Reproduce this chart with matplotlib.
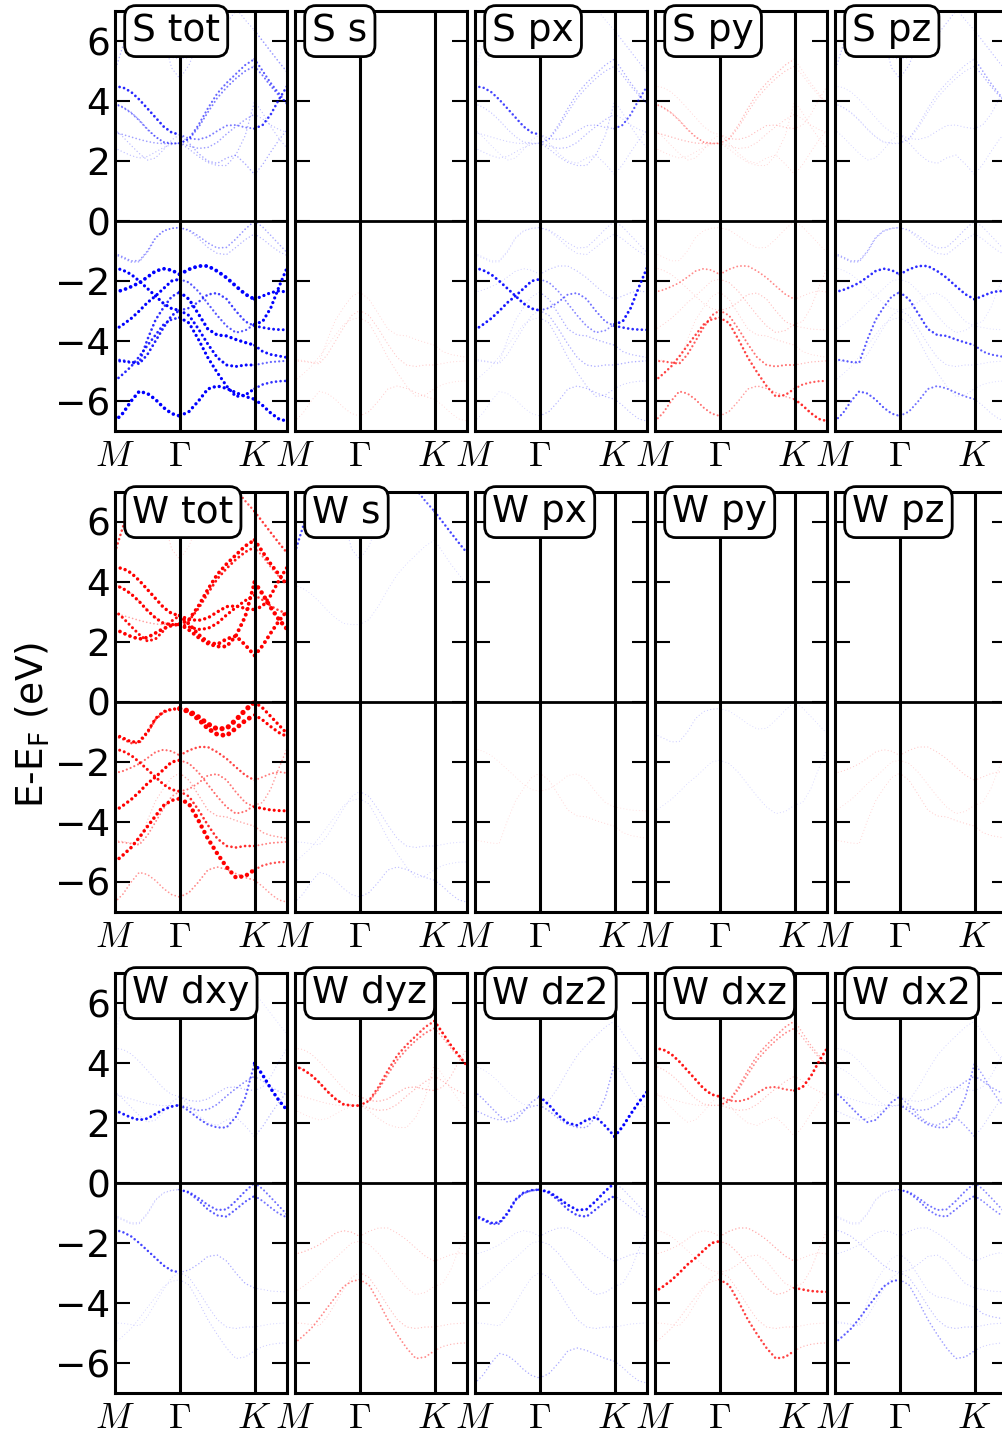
import matplotlib
matplotlib.use('Agg')
import matplotlib.pyplot as plt

plt.rcParams['lines.scale_dashes'] = False
plt.rcParams['font.family'] = ['DejaVu Sans']

# k-path M -> Gamma -> K -> M (nodes)
kpath = [0.000, 0.072, 0.144, 0.216, 0.289, 0.361, 0.433, 0.505, 0.577,
         0.660, 0.744, 0.827, 0.911, 0.994, 1.077, 1.161, 1.244,
         1.316, 1.388, 1.461, 1.533]
k_G = 0.577
k_K = 1.244
klabels = [r'$M$', r'$\Gamma$', r'$K$']

# band energies (eV, E-EF) at the k nodes
v1  = [-1.08, -1.20, -1.33, -1.32, -1.00, -0.55, -0.32, -0.24, -0.22,
       -0.30, -0.50, -0.73, -0.90, -0.88, -0.60, -0.27, 0.00,
       -0.20, -0.48, -0.77, -1.05]
v1b = [-1.12, -1.24, -1.37, -1.36, -1.04, -0.58, -0.34, -0.25, -0.22,
       -0.33, -0.58, -0.88, -1.08, -1.12, -0.88, -0.62, -0.43,
       -0.60, -0.82, -1.02, -1.15]
vP1 = [-2.37, -2.30, -2.19, -2.06, -1.87, -1.67, -1.59, -1.64, -1.78,
       -1.61, -1.50, -1.50, -1.67, -1.89, -2.17, -2.44, -2.61,
       -2.50, -2.39, -2.33, -2.37]
vX1 = [-1.56, -1.64, -1.78, -2.00, -2.25, -2.50, -2.75, -2.92, -2.98,
       -2.90, -2.70, -2.45, -2.40, -2.60, -3.00, -3.35, -3.50,
       -3.55, -3.60, -3.62, -3.63]
vX2 = [-3.63, -3.45, -3.25, -3.00, -2.72, -2.50, -2.25, -2.00, -1.94,
       -2.05, -2.35, -2.75, -3.15, -3.50, -3.72, -3.65, -3.44,
       -3.35, -2.90, -2.20, -1.56]
v5a = [-4.61, -4.65, -4.70, -4.72, -3.95, -3.30, -2.88, -2.52, -2.37,
       -2.61, -3.10, -3.60, -3.80, -3.83, -3.95, -4.05, -4.14,
       -4.35, -4.45, -4.50, -4.55]
v5b = [-4.66, -4.68, -4.72, -4.76, -4.45, -4.00, -3.55, -3.15, -2.98,
       -3.15, -3.60, -4.10, -4.55, -4.80, -4.85, -4.80, -4.80,
       -4.75, -4.70, -4.68, -4.66]
v6  = [-5.33, -5.10, -4.85, -4.52, -4.15, -3.80, -3.45, -3.28, -3.22,
       -3.40, -3.95, -4.55, -5.05, -5.50, -5.85, -5.80, -5.59,
       -5.45, -5.38, -5.34, -5.33]
v7  = [-6.67, -6.40, -6.00, -5.68, -5.75, -5.95, -6.22, -6.42, -6.50,
       -6.35, -6.00, -5.60, -5.50, -5.58, -5.72, -5.85, -5.94,
       -6.15, -6.40, -6.60, -6.67]
c1  = [3.04, 2.80, 2.52, 2.25, 2.03, 2.10, 2.38, 2.70, 2.88,
       2.60, 2.25, 2.00, 1.92, 2.10, 2.20, 1.90, 1.55,
       1.88, 2.30, 2.70, 3.04]
c2  = [2.43, 2.30, 2.18, 2.10, 2.15, 2.30, 2.45, 2.55, 2.60,
       2.40, 2.15, 1.95, 1.85, 1.85, 2.20, 2.85, 3.99,
       3.60, 3.15, 2.75, 2.43]
c3  = [4.49, 4.45, 4.30, 4.05, 3.75, 3.45, 3.15, 2.95, 2.88,
       2.75, 2.72, 2.80, 3.00, 3.18, 3.20, 3.12, 3.08,
       3.20, 3.55, 4.05, 4.49]
c4  = [3.90, 3.78, 3.60, 3.35, 3.05, 2.80, 2.62, 2.58, 2.58,
       2.75, 3.20, 3.75, 4.25, 4.60, 4.90, 5.20, 5.40,
       5.00, 4.60, 4.25, 3.90]
c4b = [3.92, 3.80, 3.62, 3.37, 3.07, 2.82, 2.64, 2.60, 2.60,
       2.72, 3.12, 3.62, 4.10, 4.45, 4.75, 5.00, 5.16,
       4.85, 4.50, 4.18, 3.92]
c5  = [2.95, 2.88, 2.80, 2.72, 2.65, 2.60, 2.58, 2.58, 2.60,
       2.50, 2.42, 2.45, 2.62, 2.90, 3.15, 3.38, 3.56,
       3.40, 3.20, 3.05, 2.95]
# high bands: one around M / K, one dipping at Gamma
c6  = [5.00, 5.85, 6.70, 7.50, 8.00, 8.00, 8.00, 8.00, 8.00,
       8.00, 8.00, 8.00, 8.00, 7.60, 7.10, 6.70, 6.35,
       6.00, 5.65, 5.30, 4.97]
c8  = [8.00, 8.00, 8.00, 8.00, 8.00, 7.60, 6.10, 5.10, 4.75,
       5.20, 6.00, 6.90, 7.60, 8.00, 8.00, 8.00, 8.00,
       8.00, 8.00, 8.00, 8.00]
c7  = [7.60, 7.40, 7.10, 6.60, 6.10, 5.75, 5.55, 5.45, 5.40,
       5.45, 5.55, 5.80, 6.20, 6.60, 7.00, 7.40, 7.80,
       7.60, 7.40, 7.30, 7.60]

bands = {'v1': v1, 'v1b': v1b, 'vP1': vP1, 'vX1': vX1, 'vX2': vX2,
         'v5a': v5a, 'v5b': v5b, 'v6': v6, 'v7': v7,
         'c1': c1, 'c2': c2, 'c3': c3, 'c4': c4, 'c4b': c4b,
         'c5': c5, 'c6': c6, 'c7': c7, 'c8': c8}

# orbital weights per band on (M-G, G-K, K-M)
S_s = {'v5a': (0.03, 0.03, 0.03), 'v5b': (0.06, 0.06, 0.03),
       'v7': (0.03, 0.05, 0.02), 'v6': (0.02, 0.04, 0.02)}
S_px = {'v1': (0.03, 0.06, 0.06), 'v1b': (0.03, 0.05, 0.05),
        'vP1': (0.04, 0.08, 0.08), 'vX1': (0.45, 0.25, 0.4),
        'vX2': (0.45, 0.2, 0.45), 'v5a': (0.04, 0.12, 0.1),
        'v5b': (0.04, 0.12, 0.12), 'v6': (0.02, 0.08, 0.05),
        'v7': (0.02, 0.1, 0.08), 'c1': (0.03, 0.05, 0.05),
        'c2': (0.05, 0.08, 0.05), 'c3': (0.35, 0.1, 0.3),
        'c4': (0.03, 0.12, 0.12), 'c4b': (0.03, 0.1, 0.1),
        'c5': (0.05, 0.1, 0.05), 'c6': (0.02, 0.03, 0.08)}
S_py = {'v1': (0.02, 0.03, 0.02), 'vP1': (0.2, 0.2, 0.04),
        'vX1': (0.04, 0.08, 0.04), 'vX2': (0.04, 0.08, 0.04),
        'v5a': (0.03, 0.05, 0.03), 'v5b': (0.3, 0.25, 0.1),
        'v6': (0.35, 0.35, 0.3), 'v7': (0.25, 0.15, 0.4),
        'c1': (0.03, 0.03, 0.03), 'c2': (0.03, 0.03, 0.03),
        'c3': (0.03, 0.08, 0.03), 'c4': (0.15, 0.1, 0.03),
        'c4b': (0.1, 0.08, 0.03), 'c5': (0.1, 0.05, 0.03)}
S_pz = {'v1': (0.12, 0.08, 0.05), 'v1b': (0.1, 0.06, 0.04),
        'vP1': (0.4, 0.4, 0.4), 'v5a': (0.3, 0.35, 0.3),
        'v7': (0.3, 0.25, 0.05), 'vX1': (0.02, 0.03, 0.02),
        'vX2': (0.02, 0.03, 0.02), 'v5b': (0.03, 0.05, 0.03),
        'v6': (0.02, 0.04, 0.02), 'c1': (0.03, 0.05, 0.04),
        'c3': (0.03, 0.05, 0.05), 'c4': (0.04, 0.06, 0.15),
        'c4b': (0.03, 0.05, 0.12), 'c6': (0.1, 0.05, 0.08),
        'c8': (0.08, 0.08, 0.0), 'c7': (0.06, 0.08, 0.04)}
W_s = {'c6': (0.35, 0.3, 0.35), 'c8': (0.05, 0.03, 0.0),
       'v7': (0.05, 0.08, 0.08), 'v5b': (0.03, 0.06, 0.03),
       'v6': (0.02, 0.04, 0.03), 'c4': (0.02, 0.02, 0.03)}
W_px = {'v5a': (0.02, 0.03, 0.02), 'vX1': (0.01, 0.02, 0.01)}
W_py = {'v1': (0.05, 0.02, 0.02), 'vX2': (0.02, 0.03, 0.02)}
W_pz = {'vP1': (0.05, 0.06, 0.05), 'v5a': (0.03, 0.05, 0.04),
        'vX2': (0.02, 0.03, 0.02)}
W_dxy = {'v1': (0.05, 0.3, 0.25), 'v1b': (0.05, 0.3, 0.25),
         'vX1': (0.35, 0.12, 0.05), 'v5b': (0.03, 0.06, 0.03),
         'v6': (0.03, 0.06, 0.05), 'c1': (0.05, 0.05, 0.1),
         'c2': (0.45, 0.3, 0.6), 'c3': (0.05, 0.1, 0.05),
         'c5': (0.05, 0.2, 0.1), 'c6': (0.02, 0.02, 0.02)}
W_dyz = {'c4': (0.45, 0.35, 0.45), 'c4b': (0.1, 0.25, 0.15),
         'c3': (0.05, 0.12, 0.08), 'c5': (0.04, 0.1, 0.08),
         'c2': (0.02, 0.04, 0.02), 'vP1': (0.1, 0.06, 0.04),
         'v6': (0.2, 0.2, 0.1), 'v5b': (0.05, 0.08, 0.05),
         'vX2': (0.04, 0.04, 0.02)}
W_dz2 = {'v1': (0.4, 0.45, 0.08), 'v1b': (0.3, 0.35, 0.08),
         'c1': (0.15, 0.45, 0.5), 'c2': (0.12, 0.15, 0.05),
         'v7': (0.12, 0.12, 0.08), 'vP1': (0.03, 0.06, 0.06),
         'vX2': (0.02, 0.06, 0.04), 'v5b': (0.03, 0.06, 0.03),
         'c4': (0.02, 0.05, 0.05)}
W_dxz = {'c3': (0.45, 0.3, 0.45), 'c4': (0.03, 0.2, 0.12),
         'c4b': (0.03, 0.2, 0.12), 'c5': (0.03, 0.08, 0.05),
         'c1': (0.02, 0.03, 0.03), 'vX2': (0.45, 0.1, 0.05),
         'v6': (0.05, 0.35, 0.1), 'vX1': (0.03, 0.05, 0.4),
         'vP1': (0.05, 0.12, 0.04), 'v5b': (0.03, 0.06, 0.03)}
W_dx2 = {'c1': (0.25, 0.15, 0.05), 'c2': (0.05, 0.2, 0.15),
         'c5': (0.03, 0.15, 0.15), 'c3': (0.02, 0.04, 0.03),
         'c4': (0.02, 0.03, 0.03), 'v1': (0.03, 0.25, 0.2),
         'v1b': (0.03, 0.25, 0.2), 'v6': (0.3, 0.15, 0.05),
         'vX1': (0.08, 0.05, 0.04), 'vP1': (0.04, 0.05, 0.04),
         'v5a': (0.02, 0.05, 0.1), 'v5b': (0.03, 0.08, 0.05)}

proj = {'S s': S_s, 'S px': S_px, 'S py': S_py, 'S pz': S_pz,
        'W s': W_s, 'W px': W_px, 'W py': W_py, 'W pz': W_pz,
        'W dxy': W_dxy, 'W dyz': W_dyz, 'W dz2': W_dz2,
        'W dxz': W_dxz, 'W dx2': W_dx2}

panels = [['S tot', 'S s', 'S px', 'S py', 'S pz'],
          ['W tot', 'W s', 'W px', 'W py', 'W pz'],
          ['W dxy', 'W dyz', 'W dz2', 'W dxz', 'W dx2']]
tot_parts = {'S tot': ['S s', 'S px', 'S py', 'S pz'],
             'W tot': ['W s', 'W px', 'W py', 'W pz', 'W dxy', 'W dyz',
                       'W dz2', 'W dxz', 'W dx2']}


def get_weights(label):
    if label in tot_parts:
        out = {}
        for part in tot_parts[label]:
            for b, w in proj[part].items():
                old = out.get(b, (0, 0, 0))
                out[b] = tuple(o + x for o, x in zip(old, w))
        return out
    return proj[label]


W, H = 1003, 1437
fig = plt.figure(figsize=(W / 100, H / 100), dpi=100)

col_x = [115, 295, 475, 655, 835]
row_top = [11, 492, 973]
segs = [(0, 9), (8, 17), (16, 21)]

n = 0
for r in range(3):
    for c in range(5):
        label = panels[r][c]
        color = 'blue' if n % 2 == 0 else 'red'
        n += 1
        ax = fig.add_axes([col_x[c] / W, 1 - (row_top[r] + 420) / H, 172 / W, 420 / H])
        weights = get_weights(label)
        for bname, E in bands.items():
            w3 = weights.get(bname, (0, 0, 0))
            for (i0, i1), w in zip(segs, w3):
                w = min(w, 1.0)
                if w < 0.005:
                    continue
                lw = 0.8 + 3.0 * w
                ax.plot(kpath[i0:i1], E[i0:i1], color=color,
                        lw=lw, alpha=min(1.0, 0.1 + 1.8 * w),
                        linestyle=(0, (0.01, 1.5 + 0.9 * lw)),
                        dash_capstyle='round', zorder=2)
        ax.axhline(0, color='k', lw=2, zorder=3)
        ax.axvline(k_G, color='k', lw=2.2, zorder=3)
        ax.axvline(k_K, color='k', lw=2.2, zorder=3)
        ax.set_xlim(kpath[0], kpath[-1])
        ax.set_ylim(-7, 7)
        ax.set_yticks([-6, -4, -2, 0, 2, 4, 6])
        ax.tick_params(axis='y', direction='in', length=11, width=1.5,
                       left=True, right=True, labelsize=27,
                       labelleft=(c == 0))
        ax.set_xticks([0, k_G, k_K])
        ax.set_xticklabels(klabels)
        ax.tick_params(axis='x', length=0, pad=6, labelsize=26)
        for t in ax.get_xticklabels():
            t.set_math_fontfamily('cm')
        for sp in ax.spines.values():
            sp.set_linewidth(2.2)
        ax.text(0.1, 0.995, label, transform=ax.transAxes, fontsize=27,
                ha='left', va='top', zorder=5,
                bbox=dict(boxstyle='round,pad=0.2,rounding_size=0.3',
                          fc='white', ec='black', lw=2))

fig.text(33 / W, 1 - 725 / H, r'E-E$_\mathrm{F}$ (eV)', rotation=90,
         fontsize=27, ha='center', va='center')

fig.savefig('out.png', dpi=100)
